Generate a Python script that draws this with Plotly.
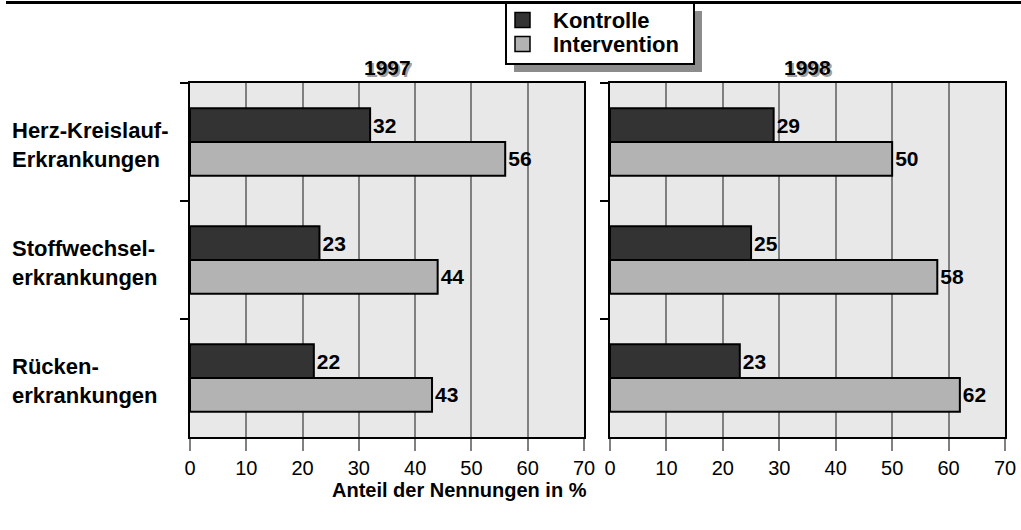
import plotly.graph_objects as go

categories = ["Herz-Kreislauf-Erkrankungen", "Stoffwechselerkrankungen", "Rückenerkrankungen"]
category_labels = ["Herz-Kreislauf-<br>Erkrankungen", "Stoffwechsel-<br>erkrankungen", "Rücken-<br>erkrankungen"]
years = ["1997", "1998"]
series_names = ["Kontrolle", "Intervention"]
kontrolle_1997 = [32, 23, 22]
intervention_1997 = [56, 44, 43]
kontrolle_1998 = [29, 25, 23]
intervention_1998 = [50, 58, 62]
x_ticks = [0, 10, 20, 30, 40, 50, 60, 70]
x_title = "Anteil der Nennungen in %"

FONT = "Liberation Sans, Arial, sans-serif"
COLORS = ["#333333", "#b3b3b3"]

W, H = 1021, 530
L, R, T, B = 190, 16, 83, 93
pw = W - L - R
ph = H - T - B


def px_x(p):
    return (p - L) / pw


def px_y(p):
    return (H - B - p) / ph


fig = go.Figure()
series = [
    (series_names[0], COLORS[0], [kontrolle_1997, kontrolle_1998]),
    (series_names[1], COLORS[1], [intervention_1997, intervention_1998]),
]
for name, col, vals in series:
    for i, v in enumerate(vals):
        fig.add_trace(go.Bar(
            name=name, orientation="h", x=v, y=categories,
            xaxis="x" if i == 0 else "x2", yaxis="y" if i == 0 else "y2",
            marker=dict(color=col, line=dict(color="black", width=2)),
            text=v, texttemplate="<b>%{x}</b>", textposition="outside",
            textfont=dict(family=FONT, size=21, color="black"),
            cliponaxis=False, showlegend=False, legendgroup=name,
        ))

xax = dict(range=[0, 70], tickvals=x_ticks, showgrid=True, gridcolor="#808080", gridwidth=2,
           showline=True, linecolor="black", linewidth=2, mirror=True,
           ticks="outside", ticklen=12, tickcolor="#808080", tickwidth=2,
           tickfont=dict(family=FONT, size=20, color="black"), zeroline=False,
           fixedrange=True, automargin=False)
yax = dict(autorange="reversed", showticklabels=False, tickson="boundaries",
           ticks="outside", ticklen=8, tickcolor="black", tickwidth=2,
           showline=True, linecolor="black", linewidth=2, mirror=True, showgrid=False,
           automargin=False, fixedrange=True)

split1 = px_x(584)
split2 = px_x(610)

fig.update_layout(
    width=W, height=H,
    margin=dict(l=L, r=R, t=T, b=B, autoexpand=False),
    paper_bgcolor="white", plot_bgcolor="#e8e8e8",
    barmode="group", bargap=0.43, bargroupgap=0,
    xaxis=dict(domain=[0, split1], anchor="y", **xax),
    xaxis2=dict(domain=[split2, 1], anchor="y2", **xax),
    yaxis=dict(domain=[0, 1], anchor="x", **yax),
    yaxis2=dict(domain=[0, 1], anchor="x2", **yax),
    font=dict(family=FONT, color="black"),
    showlegend=False,
)

shapes = [
    # top rule
    dict(type="line", xref="paper", yref="paper", x0=px_x(6), x1=px_x(1021),
         y0=px_y(2.5), y1=px_y(2.5), line=dict(color="black", width=3)),
    # legend shadow
    dict(type="rect", xref="paper", yref="paper", x0=px_x(514), x1=px_x(702),
         y0=px_y(11), y1=px_y(72), fillcolor="#8c8c8c", line=dict(width=0), layer="above"),
    # legend box
    dict(type="rect", xref="paper", yref="paper", x0=px_x(506), x1=px_x(694),
         y0=px_y(3), y1=px_y(64), fillcolor="white", line=dict(color="black", width=2),
         layer="above"),
]
ann = []
legend_rows = [20, 44]
for name, col, yc in zip(series_names, COLORS, legend_rows):
    shapes.append(dict(type="rect", xref="paper", yref="paper", x0=px_x(515), x1=px_x(530),
                       y0=px_y(yc - 7.5), y1=px_y(yc + 7.5), fillcolor=col,
                       line=dict(color="black", width=1.5), layer="above"))
    ann.append(dict(xref="paper", yref="paper", x=px_x(551), y=px_y(yc), text=name,
                    xanchor="left", yanchor="middle", showarrow=False,
                    font=dict(family=FONT, size=22, color="black", weight="bold")))
fig.update_layout(shapes=shapes)

for i, lab in enumerate(category_labels):
    ann.append(dict(xref="paper", yref="y", x=px_x(10), y=categories[i], text=lab,
                    xanchor="left", yanchor="middle", align="left", showarrow=False,
                    yshift=-3,
                    font=dict(family=FONT, size=22, color="black", weight="bold")))
for xr, yr in [("x", years[0]), ("x2", years[1])]:
    ann.append(dict(xref=xr, yref="paper", x=35, y=px_y(68), text=yr, showarrow=False,
                    xshift=2, yshift=-2, yanchor="middle",
                    font=dict(family=FONT, size=21, color="#a0a0a0", weight="bold")))
    ann.append(dict(xref=xr, yref="paper", x=35, y=px_y(68), text=yr, showarrow=False,
                    yanchor="middle",
                    font=dict(family=FONT, size=21, color="black", weight="bold")))
ann.append(dict(xref="paper", yref="paper", x=px_x(459), y=px_y(490), text=x_title,
                showarrow=False, xanchor="center", yanchor="middle",
                font=dict(family=FONT, size=20, color="black", weight="bold")))
fig.update_layout(annotations=ann)

fig.write_html("out.html", config={"displayModeBar": False},
               post_script="document.body.style.margin='0px';")
